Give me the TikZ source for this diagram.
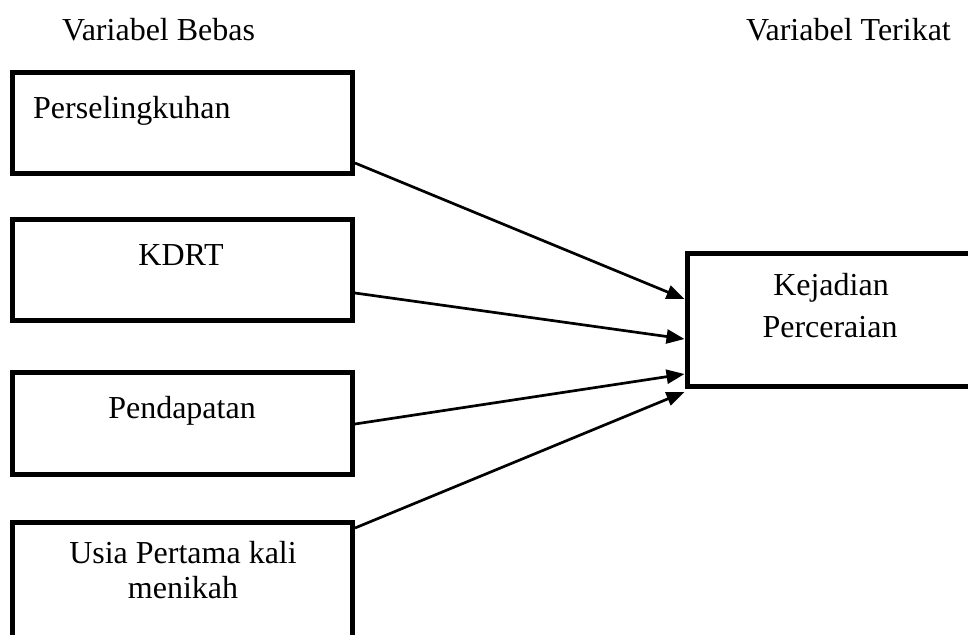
\documentclass[tikz,border=0pt]{standalone}
\usepackage{fontspec}
\setmainfont{Liberation Serif}
\usetikzlibrary{arrows.meta}
\begin{document}
\begin{tikzpicture}[x=1pt,y=-1pt,
  box/.style={draw=black,line width=5pt,rectangle,inner sep=0pt},
  txt/.style={anchor=base,inner sep=0pt,font=\fontsize{32}{38}\selectfont},
  conn/.style={line width=2.7pt,-{Triangle[length=18pt,width=14pt]}}]
\clip (0,0) rectangle (968,634);
\fill[white] (0,0) rectangle (968,634);
% boxes
\node[box,minimum width=340pt,minimum height=101pt] (b1) at (182.5,122.5) {};
\node[box,minimum width=340pt,minimum height=101.5pt] (b2) at (182.5,269.75) {};
\node[box,minimum width=340pt,minimum height=102pt] (b3) at (182.5,423) {};
\node[box,minimum width=340pt,minimum height=116pt] (b4) at (182.5,580) {};
\node[box,minimum width=313pt,minimum height=132.7pt] (r) at (843.5,320.3) {};
% headers
\node[txt,anchor=base west] (h1) at (62,41) {Variabel Bebas};
\node[txt,anchor=base east] (h2) at (951,41) {Variabel Terikat};
% texts
\node[txt,anchor=base west] (t1) at (33,118) {Perselingkuhan};
\node[txt] (t2) at (181,265) {KDRT};
\node[txt] (t3) at (182,418) {Pendapatan};
\node[txt] (t4a) at (183,563) {Usia Pertama kali};
\node[txt] (t4b) at (183,598) {menikah};
\node[txt] (t5a) at (831,295) {Kejadian};
\node[txt] (t5b) at (830,337) {Perceraian};
% connectors
\draw[conn] ([yshift=-40.5pt]b1.east) -- ([yshift=21.3pt]r.west);
\draw[conn] ([yshift=-23.25pt]b2.east) -- ([yshift=-18.7pt]r.west);
\draw[conn] ([yshift=-1pt]b3.east) -- ([yshift=-53.7pt]r.west);
\draw[conn] ([yshift=52pt]b4.east) -- ([yshift=-71.7pt]r.west);
\end{tikzpicture}
\end{document}
